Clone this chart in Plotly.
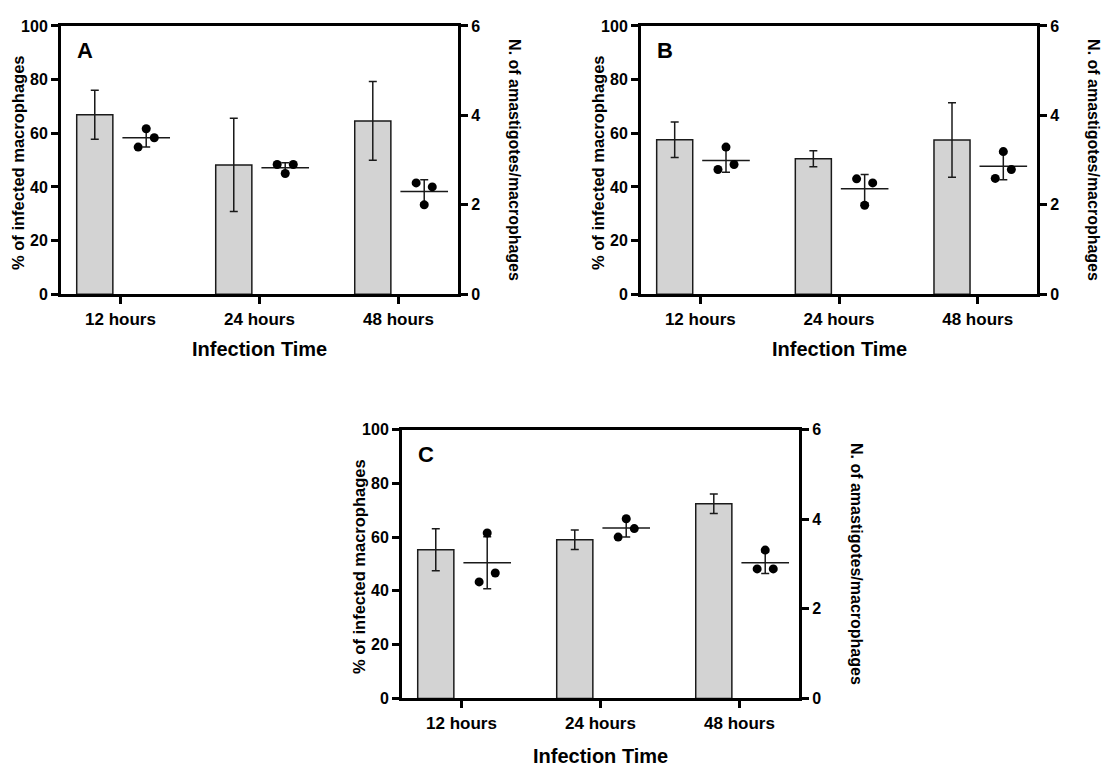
import plotly.graph_objects as go

# ---------------- data ----------------
categories = ["12 hours", "24 hours", "48 hours"]
panels = ["A", "B", "C"]

# % of infected macrophages (bars, left axis): mean and SD
infected_mean = {
    "A": [66.9, 48.2, 64.6],
    "B": [57.6, 50.5, 57.5],
    "C": [55.3, 59.0, 72.4],
}
infected_sd = {
    "A": [9.1, 17.4, 14.7],
    "B": [6.6, 3.0, 13.9],
    "C": [7.8, 3.6, 3.6],
}

# N. of amastigotes / macrophage (dots, right axis): three replicates per time
# (left, centre, right replicate)
amast_points = {
    "A": [[3.29, 3.70, 3.50], [2.90, 2.70, 2.90], [2.49, 2.00, 2.40]],
    "B": [[2.79, 3.29, 2.90], [2.58, 1.99, 2.49], [2.59, 3.19, 2.79]],
    "C": [[2.60, 3.69, 2.80], [3.60, 4.01, 3.79], [2.89, 3.31, 2.89]],
}
amast_mean = {
    "A": [3.50, 2.83, 2.30],
    "B": [2.99, 2.36, 2.86],
    "C": [3.03, 3.80, 3.03],
}
amast_sd = {
    "A": [0.21, 0.11, 0.26],
    "B": [0.26, 0.32, 0.30],
    "C": [0.58, 0.20, 0.24],
}

left_ticks = [0, 20, 40, 60, 80, 100]
right_ticks = [0, 2, 4, 6]

# ---------------- layout / styling ----------------
W, H = 1104, 772
FONT = "Arial, Liberation Sans, sans-serif"
BAR_OFF = 0.185
PT_OFF = 0.185
JIT = [-0.058, 0.0, 0.058]

# pixel boxes of each panel: (left, right, top, bottom)
boxes = {
    "A": (61, 458, 18.3, 292.7),
    "B": (641, 1037, 18.3, 292.7),
    "C": (402, 799, 431.0, 706.0),
}
xtitle_gap = {"A": 56, "B": 56, "C": 59}

fig = go.Figure()

for i, p in enumerate(panels):
    n = i + 1
    xa = "x" if n == 1 else f"x{n}"
    yl_idx = 2 * i + 1
    yr_idx = 2 * i + 2
    yl = "y" if yl_idx == 1 else f"y{yl_idx}"
    yr = f"y{yr_idx}"

    idx = list(range(len(categories)))

    fig.add_trace(go.Bar(
        x=[k - BAR_OFF for k in idx], y=infected_mean[p], width=0.26,
        xaxis=xa, yaxis=yl,
        marker=dict(color="#d3d3d3", line=dict(color="#1a1a1a", width=1.5)),
        error_y=dict(type="data", array=infected_sd[p], visible=True,
                     color="#1a1a1a", thickness=1.5, width=4),
        showlegend=False, hoverinfo="skip",
    ))

    # mean line with SD
    fig.add_trace(go.Scatter(
        x=[k + PT_OFF for k in idx], y=amast_mean[p],
        xaxis=xa, yaxis=yr, mode="markers",
        marker=dict(symbol="line-ew", size=34, color="#1a1a1a",
                    line=dict(color="#1a1a1a", width=1.5)),
        error_y=dict(type="data", array=amast_sd[p], visible=True,
                     color="#1a1a1a", thickness=1.5, width=4),
        showlegend=False, hoverinfo="skip",
    ))

    # replicate dots
    xs, ys = [], []
    for k in idx:
        for j, v in enumerate(amast_points[p][k]):
            xs.append(k + PT_OFF + JIT[j])
            ys.append(v)
    fig.add_trace(go.Scatter(
        x=xs, y=ys, xaxis=xa, yaxis=yr, mode="markers",
        marker=dict(symbol="circle", size=9, color="black"),
        showlegend=False, hoverinfo="skip",
    ))

    L, R, T, B = boxes[p]
    xdom = [L / W, R / W]
    ydom = [1 - B / H, 1 - T / H]

    axis_common = dict(showline=True, linecolor="black", linewidth=3,
                       ticks="outside", ticklen=7, tickwidth=2.5,
                       tickcolor="black", showgrid=False, zeroline=False)

    xkey = "xaxis" if n == 1 else f"xaxis{n}"
    ylkey = "yaxis" if yl_idx == 1 else f"yaxis{yl_idx}"
    yrkey = f"yaxis{yr_idx}"

    fig.update_layout(**{
        xkey: dict(domain=xdom, anchor=yl, range=[-0.428, 2.428],
                   tickmode="array", tickvals=idx, ticktext=categories,
                   mirror=True,
                   tickfont=dict(family=FONT, size=17, color="black", weight="bold"),
                   **axis_common),
        ylkey: dict(domain=ydom, anchor=xa, range=[0, 100],
                    tickmode="array", tickvals=left_ticks,
                    tickfont=dict(family=FONT, size=16, color="black", weight="bold"),
                    **axis_common),
        yrkey: dict(domain=ydom, anchor=xa, overlaying=yl, side="right",
                    range=[0, 6], tickmode="array", tickvals=right_ticks,
                    tickfont=dict(family=FONT, size=16, color="black", weight="bold"),
                    **axis_common),
    })

    mid = (T + B) / 2
    ann = [
        dict(text=p, x=(L + 24) / W, y=1 - (T + 25.5) / H, font_size=22),
        dict(text="% of infected macrophages", x=(L - 43) / W,
             y=1 - (mid + 3) / H, textangle=-90, font_size=16.5),
        dict(text="N. of amastigotes/macrophages", x=(R + 57) / W,
             y=1 - (mid) / H, textangle=90, font_size=16),
        dict(text="Infection Time", x=(L + R) / 2 / W,
             y=1 - (B + xtitle_gap[p]) / H, font_size=20),
    ]
    for a in ann:
        fs = a.pop("font_size")
        fig.add_annotation(xref="paper", yref="paper", showarrow=False,
                           xanchor="center", yanchor="middle",
                           font=dict(family=FONT, size=fs, color="black", weight="bold"),
                           **a)

fig.update_layout(
    width=W, height=H, margin=dict(l=0, r=0, t=0, b=0),
    paper_bgcolor="white", plot_bgcolor="white",
    barmode="overlay", showlegend=False,
)

fig.write_html(
    "out.html",
    config={"displayModeBar": False},
    post_script="document.body.style.margin='0';document.body.style.overflow='hidden';",
)
